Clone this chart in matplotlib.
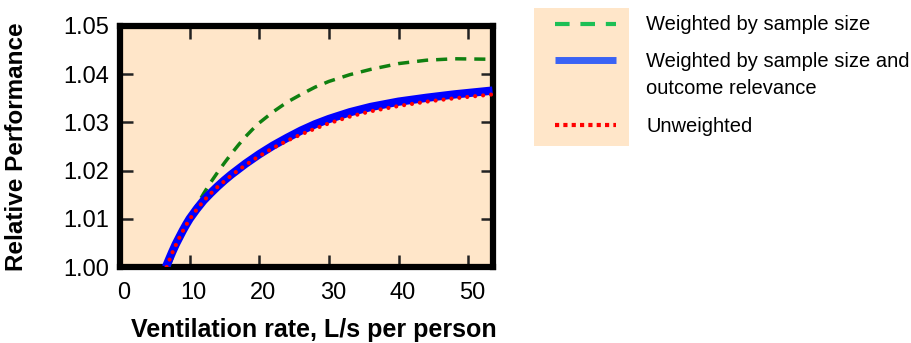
import matplotlib.pyplot as plt
from matplotlib.lines import Line2D
from matplotlib.transforms import ScaledTranslation

plt.rcParams['font.family'] = ['Liberation Sans', 'DejaVu Sans']

# values
x_blue = [6.6, 7.0, 7.5, 8.0, 8.5, 9.0, 9.5, 10, 11, 12, 13, 14, 15, 16, 17, 18, 19, 20,
          22, 24, 26, 28, 30, 33, 36, 40, 44, 48, 53.5]
y_blue = [1.0000, 1.0014, 1.0031, 1.0047, 1.0061, 1.0075, 1.0088, 1.0100, 1.0120,
          1.0138, 1.0153, 1.0167, 1.0180, 1.0192, 1.0203, 1.0214, 1.0224, 1.0234,
          1.0252, 1.0268, 1.0283, 1.0296, 1.0307, 1.0321, 1.0332, 1.0343, 1.0351,
          1.0358, 1.0366]
x_red = [6.7, 7.0, 7.5, 8.0, 8.5, 9.0, 9.5, 10, 11, 12, 13, 14, 15, 16, 17, 18, 19, 20,
         22, 24, 26, 28, 30, 33, 36, 40, 44, 48, 53.5]
y_red = [1.0000, 1.0011, 1.0029, 1.0045, 1.0060, 1.0074, 1.0087, 1.0099, 1.0119,
         1.0137, 1.0152, 1.0166, 1.0178, 1.0190, 1.0201, 1.0211, 1.0221, 1.0230,
         1.0247, 1.0262, 1.0275, 1.0287, 1.0298, 1.0312, 1.0323, 1.0334, 1.0343,
         1.0350, 1.0358]
x_green = [7.0, 7.5, 8.0, 8.5, 9.0, 9.5, 10, 11, 12, 13, 14, 15, 16, 17, 18, 19, 20,
           22, 24, 26, 28, 30, 33, 36, 40, 44, 48, 53.5]
y_green = [1.0000, 1.0020, 1.0038, 1.0055, 1.0071, 1.0087, 1.0101, 1.0127, 1.0152,
           1.0175, 1.0196, 1.0216, 1.0235, 1.0253, 1.0270, 1.0285, 1.0299, 1.0322,
           1.0342, 1.0358, 1.0373, 1.0385, 1.0399, 1.0410, 1.0422, 1.0429, 1.0432,
           1.0431]

labels = ['Weighted by sample size',
          'Weighted by sample size and\noutcome relevance',
          'Unweighted']
bg = '#FFE6C9'

W, H = 912, 343
fig = plt.figure(figsize=(W / 100, H / 100), dpi=100)
ax = fig.add_axes([120 / W, 1 - 267 / H, (492.5 - 120) / W, (267 - 26) / H])
ax.set_facecolor(bg)

ax.plot(x_green, y_green, color='#108010', lw=2.5, ls=(0, (3.2, 2.3)), zorder=3)
ax.plot(x_blue, y_blue, color='#0000FF', lw=6, solid_capstyle='butt',
        solid_joinstyle='round', zorder=4)
ax.plot(x_red, y_red, color='#FF0000', lw=3, ls=(0, (0.01, 1.9)),
        dash_capstyle='round', zorder=5)

ax.set_xlim(0.4, 53.5)
ax.set_ylim(1.0, 1.05)
ax.set_xticks([0, 10, 20, 30, 40, 50])
ax.set_yticks([1.00, 1.01, 1.02, 1.03, 1.04, 1.05])
ax.set_yticklabels(['1.00', '1.01', '1.02', '1.03', '1.04', '1.05'])
for s in ax.spines.values():
    s.set_linewidth(4.5)
ax.tick_params(direction='in', length=9, width=1.8, top=True, right=True,
               labelsize=17, color='#222222')
ax.tick_params(axis='x', pad=11)
ax.tick_params(axis='y', pad=8)
# x tick labels sit a few pixels right of their ticks in the reference
shift = ScaledTranslation(4 / 100, 0, fig.dpi_scale_trans)
for lbl in ax.get_xticklabels():
    lbl.set_transform(lbl.get_transform() + shift)

ax.set_xlabel('Ventilation rate, L/s per person', fontsize=18, fontweight='bold')
ax.set_ylabel('Relative Performance', fontsize=17.5, fontweight='bold')
ax.xaxis.set_label_coords(0.52, -0.212)
ax.yaxis.set_label_coords(-0.247, 0.5)

# legend: coloured box with samples, labels beside it
lax = fig.add_axes([534 / W, 1 - 146 / H, (629 - 534) / W, (146 - 8) / H])
lax.set_facecolor(bg)
lax.set_xlim(0, 95)
lax.set_ylim(146, 8)
lax.set_xticks([])
lax.set_yticks([])
for s in lax.spines.values():
    s.set_visible(False)
handles = [
    Line2D([21, 82], [24, 24], color='#1DBF55', lw=3, ls=(0, (3.5, 2.6))),
    Line2D([21, 82], [60, 60], color='#3A63F5', lw=5, solid_capstyle='butt'),
    Line2D([21, 82], [125, 125], color='#FF0000', lw=3, ls=(0, (1, 1))),
]
for h in handles:
    lax.add_line(h)

fig.text(646 / W, 1 - 24 / H, labels[0], fontsize=14.5, va='center')
fig.text(646 / W, 1 - 75 / H, labels[1], fontsize=14.5, va='center', linespacing=1.55)
fig.text(646 / W, 1 - 126 / H, labels[2], fontsize=14.5, va='center')

plt.savefig('out.png', dpi=100)
